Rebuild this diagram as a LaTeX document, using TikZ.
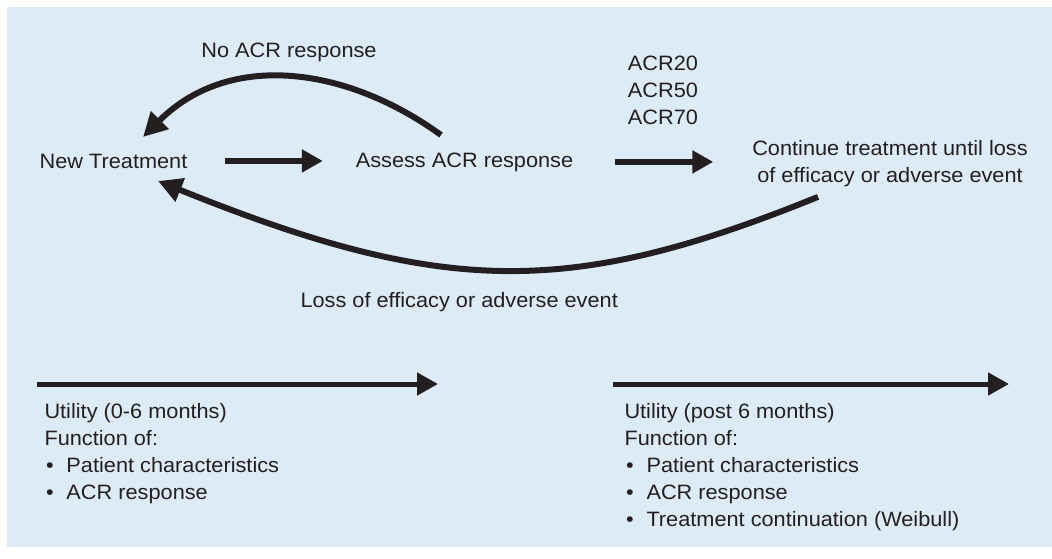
\documentclass[tikz,border=0pt]{standalone}
\usepackage{fontspec}
\setmainfont{Liberation Sans}[FakeStretch=1.045]
\usetikzlibrary{arrows.meta}
\definecolor{bgblue}{HTML}{DDEBF7}
\definecolor{ink}{HTML}{231F20}
\newcommand{\bulitem}{\makebox[22pt][l]{\hspace{1.5pt}•}}
\begin{document}
\begin{tikzpicture}[x=1pt,y=-1pt,
  lbl/.style={font=\fontsize{20.8}{27}\selectfont, text=ink, inner sep=0pt, outer sep=0pt},
  fwd/.style={draw=ink, line width=6.5pt, -{Triangle[length=21pt,width=22pt]}},
  back/.style={draw=ink, line width=6pt, -{Triangle[length=24pt,width=24pt]}},
  axisarrow/.style={draw=ink, line width=5pt, -{Triangle[length=21pt,width=22pt]}}]
\useasboundingbox (0,0) rectangle (1052,558);
\fill[bgblue] (7,7) rectangle (1052,547);

\node[lbl, anchor=base] (noacr) at (289,57) {No ACR response};
\node[lbl, anchor=base] (newt) at (113.5,168) {New Treatment};
\node[lbl, anchor=base] (assess) at (464.5,167) {Assess ACR response};
\node[lbl, anchor=north, align=center] (acr) at (663,56) {ACR20\\ACR50\\ACR70};
\node[lbl, anchor=north, align=center] (cont) at (890,140) {Continue treatment until loss\\of efficacy or adverse event};
\node[lbl, anchor=base west] (loss) at (300.5,307) {Loss of efficacy or adverse event};

\draw[fwd, shorten <=38pt, shorten >=33pt] (newt.east) -- (newt.east -| assess.west);
\draw[fwd, shorten <=42pt, shorten >=39pt] (assess.east) -- (assess.east -| cont.west);

\draw[back] ([xshift=-23.5pt,yshift=32pt]assess.base) .. controls (348.4,67.7) and (230.4,49.6) .. ([xshift=29.5pt,yshift=31pt]newt.base);
\draw[back] ([xshift=-72pt,yshift=-10.5pt]cont.south) .. controls (571,297) and (445,297) .. ([xshift=44.5pt,yshift=-13pt]newt.base);

\coordinate (l0) at (37,384);
\coordinate (l1) at (438,384);
\coordinate (r0) at (613,384);
\coordinate (r1) at (1009,384);
\draw[axisarrow] (l0) -- (l1);
\draw[axisarrow] (r0) -- (r1);

\node[lbl, anchor=north west, align=left] (uleft) at (44.5,403) {Utility (0-6 months)\\Function of:\\\bulitem Patient characteristics\\\bulitem ACR response};
\node[lbl, anchor=north west, align=left] (uright) at (624.5,403) {Utility (post 6 months)\\Function of:\\\bulitem Patient characteristics\\\bulitem ACR response\\\bulitem Treatment continuation (Weibull)};
\end{tikzpicture}
\end{document}
